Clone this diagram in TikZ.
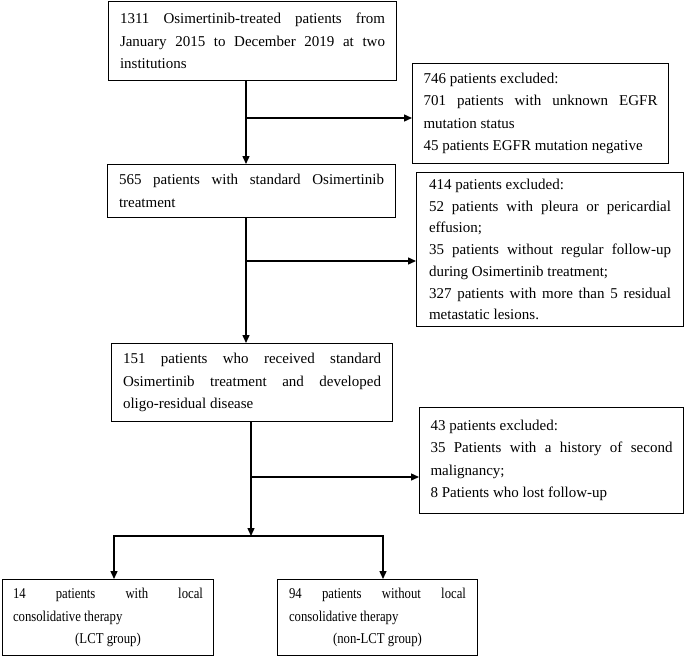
\documentclass[tikz,border=0pt]{standalone}
\usepackage{fontspec}
\setmainfont{Liberation Serif}
\newfontfamily\narrowserif[FakeStretch=0.85]{Liberation Serif}
\usetikzlibrary{arrows.meta}
\usetikzlibrary{positioning}

\tikzset{
  box/.style={draw, line width=1pt, anchor=north west, align=justify, inner ysep=0pt,
    font=\fontsize{15}{22.5}\selectfont},
  arr/.style={line width=1.4pt, -{Triangle[length=8pt,width=7pt]}},
  fork/.style={line width=1.4pt, {Triangle[length=8pt,width=7pt]}-{Triangle[length=8pt,width=7pt]}},
}

\begin{document}
\begin{tikzpicture}[x=1pt, y=-1pt]
			\useasboundingbox (0,0) rectangle (685,656);
			
			% main column
			\node[box, text width=265pt, inner xsep=11.5pt, minimum height=79pt] (start) at (108,1)
				{1311 Osimertinib-treated patients from\linebreak January 2015 to December 2019 at two\linebreak institutions};
			\node[box, text width=265pt, inner xsep=11.5pt, minimum height=53pt] (standard) at (107,164)
				{565 patients with standard Osimertinib\linebreak treatment};
			\node[box, text width=258pt, inner xsep=11.5pt, minimum height=78pt] (oligo) at (111,343)
				{151 patients who received standard\linebreak Osimertinib treatment and developed\linebreak oligo-residual disease};
			
			% excluded
			\node[box, text width=234pt, inner xsep=11pt, minimum height=100pt] (excl1) at (412,63)
				{746 patients excluded:\par 701 patients with unknown EGFR\linebreak mutation status\par 45 patients EGFR mutation negative};
			\node[box, text width=242pt, inner xsep=12.5pt, minimum height=154pt,
				font=\fontsize{15}{21.7}\selectfont] (excl2) at (416,172)
				{414 patients excluded:\par 52 patients with pleura or pericardial\linebreak effusion;\par 35 patients without regular follow-up\linebreak during Osimertinib treatment;\par 327 patients with more than 5 residual\linebreak metastatic lesions.};
			\node[box, text width=242pt, inner xsep=11pt, minimum height=106pt] (excl3) at (419,407)
				{43 patients excluded:\par 35 Patients with a history of second\linebreak malignancy;\par 8 Patients who lost follow-up};
			
			% groups
			\node[box, text width=190pt, inner xsep=10.5pt, minimum height=76pt,
				font=\narrowserif\fontsize{15}{22.5}\selectfont] (lct) at (2,579)
				{14 patients with local\linebreak consolidative therapy\par\centerline{(LCT group)}};
			\node[box, text width=177pt, inner xsep=11.5pt, minimum height=76pt,
				font=\narrowserif\fontsize{15}{22.5}\selectfont] (nonlct) at (277,579)
				{94 patients without local\linebreak consolidative therapy\par\centerline{(non-LCT group)}};
			
			\coordinate (split1) at (246,118);
			\coordinate (split2) at (246,261);
			\coordinate (split3) at (251,477);
			\coordinate (join) at (251,536);
			\coordinate (joinl) at (114,536);
			\coordinate (joinr) at (383,536);
			
			\draw[arr] (start.south -| split1) -- (standard.north -| split1);
			\draw[arr] (split1) -- (excl1.west |- split1);
			\draw[arr] (standard.south -| split2) -- (oligo.north -| split2);
			\draw[arr] (split2) -- (excl2.west |- split2);
			\draw[arr] (oligo.south -| join) -- (join);
			\draw[arr] (split3) -- (excl3.west |- split3);
			\draw[fork] (lct.north -| joinl) -- (joinl) -- (joinr) -- (nonlct.north -| joinr);
		\end{tikzpicture}
\end{document}
